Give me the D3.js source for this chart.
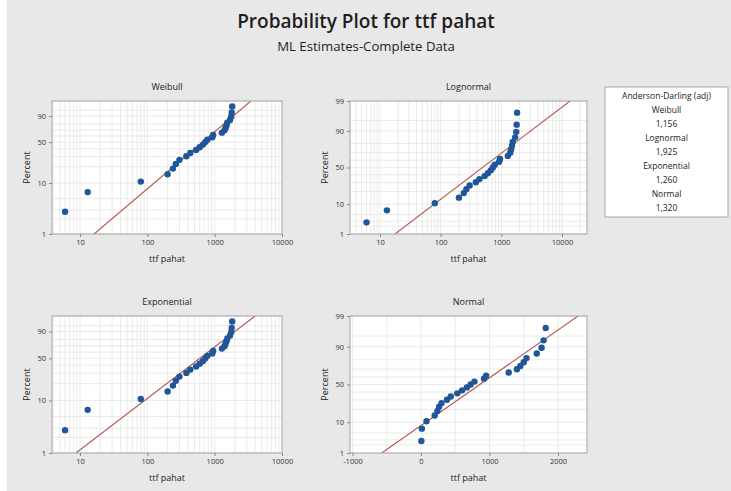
<!DOCTYPE html>
<html><head><meta charset="utf-8">
<script src="https://cdn.jsdelivr.net/npm/d3@7"></script>
<style>body{margin:0;background:#fff}svg{display:block}text{font-family:"Open Sans","Noto Sans",sans-serif}</style>
</head><body><svg id="c" width="731" height="491"></svg>
<script>
// ---- data ----
const ttfPahat = [6, 13, 80, 200, 240, 265, 300, 380, 435, 530, 600, 670, 725, 780, 920, 950, 1280, 1400, 1450, 1500, 1540, 1690, 1760, 1790, 1820];
const panelNames = ["Weibull", "Lognormal", "Exponential", "Normal"];
const adLabels = ["Weibull", "Lognormal", "Exponential", "Normal"];
const adValues = ["1,156", "1,925", "1,260", "1,320"];
const weibullFit = [1.143, 906];      // shape, scale
const lognormalFit = [6.193, 1.428];  // location, scale (natural log)
const exponentialFit = [866];         // mean
const normalFit = [859, 616];         // mean, st.dev
const logTicks = [10, 100, 1000, 10000];
const linTicks = [-1000, 0, 1000, 2000];
const pctTicksWeibull = [1, 10, 50, 90];
const pctTicksNormal = [1, 10, 50, 90, 99];
const pctGrid = [1, 2, 3, 5, 10, 20, 30, 40, 50, 60, 70, 80, 90, 95, 99];

// ---- helpers ----
function qnorm(p) {
  const a = [-3.969683028665376e+01, 2.209460984245205e+02, -2.759285104469687e+02, 1.383577518672690e+02, -3.066479806614716e+01, 2.506628277459239e+00];
  const b = [-5.447609879822406e+01, 1.615858368580409e+02, -1.556989798598866e+02, 6.680131188771972e+01, -1.328068155288572e+01];
  const c = [-7.784894002430293e-03, -3.223964580411365e-01, -2.400758277161838e+00, -2.549732539343734e+00, 4.374664141464968e+00, 2.938163982698783e+00];
  const d = [7.784695709041462e-03, 3.224671290700398e-01, 2.445134137142996e+00, 3.754408661907416e+00];
  const pl = 0.02425;
  let q, r;
  if (p < pl) { q = Math.sqrt(-2 * Math.log(p)); return (((((c[0]*q+c[1])*q+c[2])*q+c[3])*q+c[4])*q+c[5]) / ((((d[0]*q+d[1])*q+d[2])*q+d[3])*q+1); }
  if (p > 1 - pl) { q = Math.sqrt(-2 * Math.log(1 - p)); return -(((((c[0]*q+c[1])*q+c[2])*q+c[3])*q+c[4])*q+c[5]) / ((((d[0]*q+d[1])*q+d[2])*q+d[3])*q+1); }
  q = p - 0.5; r = q * q;
  return (((((a[0]*r+a[1])*r+a[2])*r+a[3])*r+a[4])*r+a[5])*q / (((((b[0]*r+b[1])*r+b[2])*r+b[3])*r+b[4])*r+1);
}
const tWeib = p => Math.log(-Math.log(1 - p));

const svg = d3.select("#c");
svg.append("rect").attr("x", 0).attr("y", 0).attr("width", 731).attr("height", 491).attr("fill", "#ffffff");
svg.append("rect").attr("x", 7).attr("y", 0).attr("width", 724).attr("height", 491).attr("fill", "#e8e8e8");

svg.append("text").attr("x", 366).attr("y", 28).attr("text-anchor", "middle")
  .attr("font-size", 19).attr("font-weight", 600).attr("fill", "#1e1e1e").text("Probability Plot for ttf pahat");
svg.append("text").attr("x", 366).attr("y", 51).attr("text-anchor", "middle")
  .attr("font-size", 13.2).attr("fill", "#1e1e1e").text("ML Estimates-Complete Data");

const n = ttfPahat.length;
const sorted = ttfPahat.slice().sort((a, b) => a - b);
const ranks = sorted.map((v, i) => ({ v, p: (i + 1 - 0.3) / (n + 0.4) }));

const panels = [
  { name: panelNames[0], x0: 52, x1: 282, y0: 101, y1: 234, log: true, dom: [Math.pow(10, 0.584), 10000],
    t: tWeib, yt: pctTicksWeibull, xq: p => weibullFit[1] * Math.pow(-Math.log(1 - p), 1 / weibullFit[0]) },
  { name: panelNames[1], x0: 350, x1: 587, y0: 101, y1: 234, log: true, dom: [Math.pow(10, 0.5055), Math.pow(10, 4.412)],
    t: qnorm, yt: pctTicksNormal, xq: p => Math.exp(lognormalFit[0] + lognormalFit[1] * qnorm(p)) },
  { name: panelNames[2], x0: 52, x1: 282, y0: 316, y1: 453, log: true, dom: [Math.pow(10, 0.584), 10000],
    t: tWeib, yt: pctTicksWeibull, xq: p => -exponentialFit[0] * Math.log(1 - p) },
  { name: panelNames[3], x0: 350, x1: 587, y0: 316, y1: 453, log: false, dom: [-1036, 2423],
    t: qnorm, yt: pctTicksNormal, xq: p => normalFit[0] + normalFit[1] * qnorm(p) }
];

panels.forEach((P, k) => {
  const g = svg.append("g");
  const x = (P.log ? d3.scaleLog() : d3.scaleLinear()).domain(P.dom).range([P.x0, P.x1]);
  const y = d3.scaleLinear().domain([P.t(0.01), P.t(0.99)]).range([P.y1, P.y0]);
  const cid = "clip" + k;
  svg.append("clipPath").attr("id", cid).append("rect")
    .attr("x", P.x0).attr("y", P.y0).attr("width", P.x1 - P.x0).attr("height", P.y1 - P.y0);

  g.append("rect").attr("x", P.x0).attr("y", P.y0).attr("width", P.x1 - P.x0).attr("height", P.y1 - P.y0).attr("fill", "#fff");

  // grid
  let xg = [];
  if (P.log) {
    for (let e = 0; e <= 4; e++) for (let m = 1; m <= 9; m++) { const v = m * Math.pow(10, e); if (v > P.dom[0] && v < P.dom[1]) xg.push(v); }
  } else {
    xg = d3.range(-1000, 2500, 500);
  }
  g.selectAll(".vg").data(xg).join("line").attr("x1", d => x(d)).attr("x2", d => x(d))
    .attr("y1", P.y0).attr("y2", P.y1).attr("stroke", "#e5e5e5").attr("stroke-width", 0.8);
  g.selectAll(".hg").data(pctGrid).join("line").attr("x1", P.x0).attr("x2", P.x1)
    .attr("y1", d => y(P.t(d / 100))).attr("y2", d => y(P.t(d / 100))).attr("stroke", "#e5e5e5").attr("stroke-width", 0.8);

  // fit line
  g.append("line").attr("clip-path", `url(#${cid})`)
    .attr("x1", x(P.xq(0.01))).attr("y1", y(P.t(0.01)))
    .attr("x2", x(P.xq(0.99))).attr("y2", y(P.t(0.99)))
    .attr("stroke", "#b5564c").attr("stroke-width", 1.1);

  // points
  g.selectAll(".pt").data(ranks).join("circle").attr("clip-path", `url(#${cid})`)
    .attr("cx", d => x(d.v)).attr("cy", d => y(P.t(d.p))).attr("r", 3.2).attr("fill", "#1f5699");

  // frame
  g.append("rect").attr("x", P.x0).attr("y", P.y0).attr("width", P.x1 - P.x0).attr("height", P.y1 - P.y0)
    .attr("fill", "none").attr("stroke", "#a3a3a3").attr("stroke-width", 1);

  // x axis
  const xt = P.log ? logTicks : linTicks;
  const xa = d3.axisBottom(x).tickValues(xt).tickSize(3).tickFormat(d => String(d));
  const xag = g.append("g").attr("transform", `translate(0,${P.y1})`).call(xa);
  xag.select(".domain").remove();
  xag.selectAll("line").attr("stroke", "#888");
  xag.selectAll("text").attr("font-size", 7.5).attr("fill", "#333").attr("font-family", "\"Open Sans\",sans-serif");

  // y axis
  const ya = d3.axisLeft(y).tickValues(P.yt.map(v => P.t(v / 100))).tickSize(3)
    .tickFormat((d, i) => String(P.yt[i]));
  const yag = g.append("g").attr("transform", `translate(${P.x0},0)`).call(ya);
  yag.select(".domain").remove();
  yag.selectAll("line").attr("stroke", "#888");
  yag.selectAll("text").attr("font-size", 7.5).attr("fill", "#333").attr("font-family", "\"Open Sans\",sans-serif");

  // labels
  const cx = (P.x0 + P.x1) / 2;
  g.append("text").attr("x", cx).attr("y", P.y0 - 11).attr("text-anchor", "middle")
    .attr("font-size", 9).attr("fill", "#222").text(P.name);
  g.append("text").attr("x", cx).attr("y", P.y1 + 28).attr("text-anchor", "middle")
    .attr("font-size", 9).attr("fill", "#222").text("ttf pahat");
  g.append("text").attr("transform", `translate(${P.x0 - 22},${(P.y0 + P.y1) / 2}) rotate(-90)`)
    .attr("text-anchor", "middle").attr("font-size", 9).attr("fill", "#222").text("Percent");
});

// legend box
const lg = svg.append("g");
lg.append("rect").attr("x", 605).attr("y", 87).attr("width", 123).attr("height", 130)
  .attr("fill", "#fff").attr("stroke", "#a8a8a8").attr("stroke-width", 1);
const legendLines = ["Anderson-Darling (adj)"];
adLabels.forEach((l, i) => { legendLines.push(l); legendLines.push(adValues[i]); });
lg.selectAll("text").data(legendLines).join("text")
  .attr("x", 666.5).attr("y", (d, i) => 99 + i * 14).attr("text-anchor", "middle")
  .attr("font-size", 8.5).attr("fill", "#222").text(d => d);
</script></body></html>
